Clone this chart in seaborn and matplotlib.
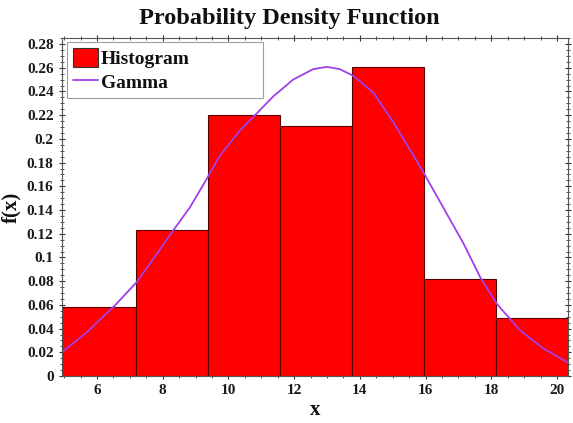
import matplotlib
matplotlib.use("Agg")
import matplotlib.pyplot as plt
from matplotlib.patches import Patch
from matplotlib.lines import Line2D
from matplotlib.ticker import MultipleLocator, FuncFormatter
import seaborn as sns

# histogram bins
bin_edges = [4.93, 7.18, 9.37, 11.56, 13.75, 15.94, 18.13, 20.33]
bin_heights = [0.058, 0.123, 0.220, 0.211, 0.261, 0.082, 0.049]

# gamma curve points
curve_x = [4.93, 5.69, 6.55, 7.21, 7.82, 8.32, 8.83, 9.34, 9.74, 10.35, 10.81,
           11.37, 11.97, 12.58, 12.99, 13.39, 13.80, 14.41, 15.02, 15.63,
           15.93, 16.54, 17.15, 17.66, 18.16, 18.87, 19.58, 20.33]
curve_y = [0.020, 0.037, 0.0597, 0.0793, 0.103, 0.1228, 0.1424, 0.1663, 0.186, 0.207, 0.220,
           0.236, 0.250, 0.2588, 0.2607, 0.2588, 0.2532, 0.239, 0.214, 0.186,
           0.172, 0.142, 0.112, 0.0835, 0.0611, 0.0387, 0.0233, 0.0115]

bin_centers = [(a + b) / 2 for a, b in zip(bin_edges[:-1], bin_edges[1:])]

sns.set_style("white")
plt.rcParams["font.family"] = ["Liberation Serif", "DejaVu Serif"]
plt.rcParams["font.weight"] = "bold"
plt.rcParams["text.color"] = "#111111"
plt.rcParams["axes.labelcolor"] = "#111111"

fig = plt.figure(figsize=(5.73, 4.23), dpi=100)
ax = fig.add_axes([0.108, 0.111, 0.883, 0.799])

sns.histplot(x=bin_centers, weights=bin_heights, bins=bin_edges, stat="count",
             color="#ff0000", alpha=1.0, edgecolor="#5a0000", linewidth=0.8, ax=ax)
sns.lineplot(x=curve_x, y=curve_y, color="#a040e8", linewidth=1.3, ax=ax,
             solid_joinstyle="round")

ax.set_xlim(bin_edges[0], bin_edges[-1])
ax.set_ylim(0, 0.285)
ax.xaxis.set_major_locator(MultipleLocator(2))
ax.xaxis.set_minor_locator(MultipleLocator(0.5))
ax.yaxis.set_major_locator(MultipleLocator(0.02))
ax.yaxis.set_minor_locator(MultipleLocator(0.005))
ax.yaxis.set_major_formatter(FuncFormatter(lambda v, p: ("%.2f" % v).rstrip("0").rstrip(".")))
ax.tick_params(which="both", direction="inout", top=True, right=True, left=True, bottom=True,
               labelsize=11, colors="#333333", labelcolor="#1a1a1a")
ax.tick_params(which="major", length=5)
ax.tick_params(which="minor", length=2.5)
for s in ax.spines.values():
    s.set_color("#555555")
    s.set_linewidth(0.8)

ax.set_xlabel("x", fontsize=15, fontweight="bold", labelpad=2)
ax.set_ylabel("f(x)", fontsize=15, fontweight="bold", labelpad=4)
fig.text(0.505, 0.957, "Probability Density Function", ha="center", va="center",
         fontsize=17.5, fontweight="bold", color="#111111")

handles = [Patch(facecolor="#ff0000", edgecolor="#333333", linewidth=0.8),
           Line2D([0], [0], color="#a040e8", linewidth=1.3)]
leg = ax.legend(handles, ["Histogram", "Gamma"], loc="upper left", fontsize=14,
                bbox_to_anchor=(0.01, 0.988, 0.387, 0), mode="expand",
                frameon=True, fancybox=False, borderaxespad=0, handlelength=1.3,
                handleheight=1.1, handletextpad=0.15, borderpad=0.3, labelspacing=0.2)
leg.get_frame().set_edgecolor("#888888")
leg.get_frame().set_linewidth(0.8)
for t in leg.get_texts():
    t.set_fontweight("bold")
    t.set_color("#111111")

fig.savefig("out.png", dpi=100)
